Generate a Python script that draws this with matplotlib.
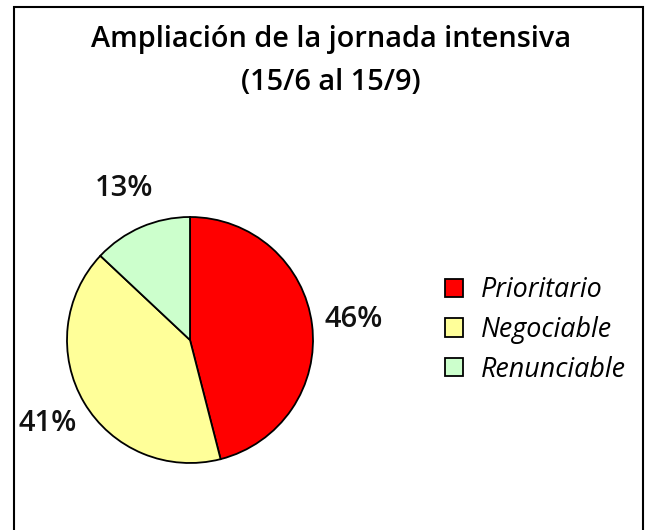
import matplotlib
matplotlib.use("Agg")
import matplotlib.pyplot as plt
from matplotlib.patches import Rectangle

# datos
categorias = ["Prioritario", "Negociable", "Renunciable"]
valores = [46, 41, 13]
colores = ["#FF0000", "#FFFF99", "#CCFFCC"]
titulo = "Ampliación de la jornada intensiva\n(15/6 al 15/9)"

W, H = 646, 530
fig = plt.figure(figsize=(W / 100, H / 100), dpi=100)
plt.rcParams['font.family'] = ['Open Sans', 'DejaVu Sans']

# marco
fig.patches.append(Rectangle((14 / W, -0.1), (643 - 14) / W, 1.1 - 7 / H,
                             transform=fig.transFigure, fill=False,
                             edgecolor="black", linewidth=1.5))

# ejes del pastel: centro (190, 340) px, radio 123 px
r = 123
cx, cy = 190, 340
lado = 2.5 * r
ax = fig.add_axes([(cx - lado / 2) / W, (H - cy - lado / 2) / H, lado / W, lado / H])

wedges, texts, autotexts = ax.pie(
    valores, colors=colores, startangle=90, counterclock=False,
    autopct="%1.0f%%", pctdistance=1.34,
    wedgeprops=dict(edgecolor="black", linewidth=1.3),
    textprops=dict(fontsize=21, fontweight="semibold", color="#111111"))
ax.set_xlim(-1.25, 1.25)
ax.set_ylim(-1.25, 1.25)
ax.set_aspect("equal")

fig.text(331 / W, 1 - 61 / H, titulo, ha="center", va="center",
         fontsize=20.8, fontweight="semibold", linespacing=1.64)

fig.legend(wedges, categorias, loc="center left",
           bbox_to_anchor=(436 / W, 1 - 330 / H), frameon=False,
           borderaxespad=0, borderpad=0.35,
           prop=dict(size=19.4, style="italic"),
           handlelength=0.67, handleheight=0.67, labelspacing=0.43,
           handletextpad=0.65)

fig.savefig("out.png", dpi=100)
